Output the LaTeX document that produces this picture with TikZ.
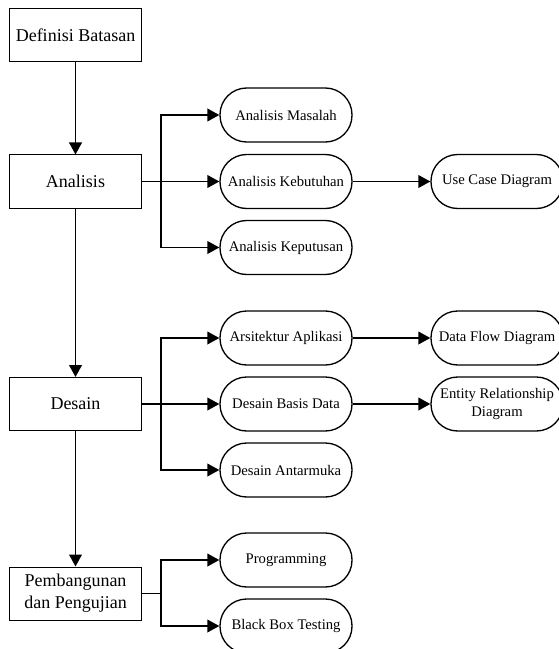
\documentclass[tikz,border=0pt]{standalone}
\usepackage{fontspec}
\setmainfont{Liberation Serif}
\usetikzlibrary{arrows,arrows.meta,positioning}

\begin{document}
\begin{tikzpicture}[x=0.75pt,y=-0.75pt,
    stage/.style={draw,line width=0.75pt,minimum width=99pt,minimum height=39.75pt,
      inner sep=1pt,align=center,font=\fontsize{13.5}{16.5}\selectfont},
    task/.style={draw,line width=1pt,rounded corners=20pt,minimum width=99pt,
      minimum height=40.5pt,inner sep=1pt,align=center,font=\fontsize{11}{13.5}\selectfont},
    flow/.style={line width=1.4pt,-{Triangle[length=9pt,width=9.5pt]}}]

    \useasboundingbox (0,0) rectangle (558,649);

    % tahapan
    \node[stage] at (75.5,35.5)  (definisi) {Definisi Batasan};
    \node[stage] at (75.5,181.5) (analisis) {Analisis};
    \node[stage] at (75.5,404)   (desain) {Desain};
    \node[stage] at (75.5,593.5) (pembangunan) {Pembangunan\\dan Pengujian};

    % kegiatan
    \node[task] at (286,115)   (analisis_masalah) {Analisis Masalah};
    \node[task] at (286,181.5) (analisis_kebutuhan) {Analisis Kebutuhan};
    \node[task] at (286,247.5) (analisis_keputusan) {Analisis Keputusan};

    \node[task] at (286,338) (arsitektur) {Arsitektur Aplikasi};
    \node[task] at (286,404) (basis_data) {Desain Basis Data};
    \node[task] at (286,470) (antarmuka) {Desain Antarmuka};

    \node[task] at (286,560) (programming) {Programming};
    \node[task] at (286,626) (black_box) {Black Box Testing};

    % hasil
    \node[task] at (497,181.5) (use_case) {Use Case Diagram};
    \node[task] at (497,338)   (dfd) {Data Flow Diagram};
    \node[task] at (497,404)   (erd) {Entity Relationship\\Diagram};

    % titik cabang
    \coordinate (analisis_split) at (161,181.5);
    \coordinate (desain_split) at (161,404);
    \coordinate (pembangunan_split) at (161,593.5);

    \draw [flow] (definisi)  -- (analisis);
    \draw [flow] (analisis)  -- (desain);
    \draw [flow] (desain)    -- (pembangunan);

    \draw [flow] (analisis) -- (analisis_kebutuhan);
    \draw [flow] (analisis_split) |- (analisis_masalah);
    \draw [flow] (analisis_split) |- (analisis_keputusan);

    \draw [flow] (desain) -- (basis_data);
    \draw [flow] (desain_split) |- (arsitektur);
    \draw [flow] (desain_split) |- (antarmuka);

    \draw [line width=1.4pt] (pembangunan) -- (pembangunan_split);
    \draw [flow] (pembangunan_split) |- (programming);
    \draw [flow] (pembangunan_split) |- (black_box);

    \draw [flow] (analisis_kebutuhan) -- (use_case);
    \draw [flow] (arsitektur) -- (dfd);
    \draw [flow] (basis_data) -- (erd);

  \end{tikzpicture}
\end{document}
